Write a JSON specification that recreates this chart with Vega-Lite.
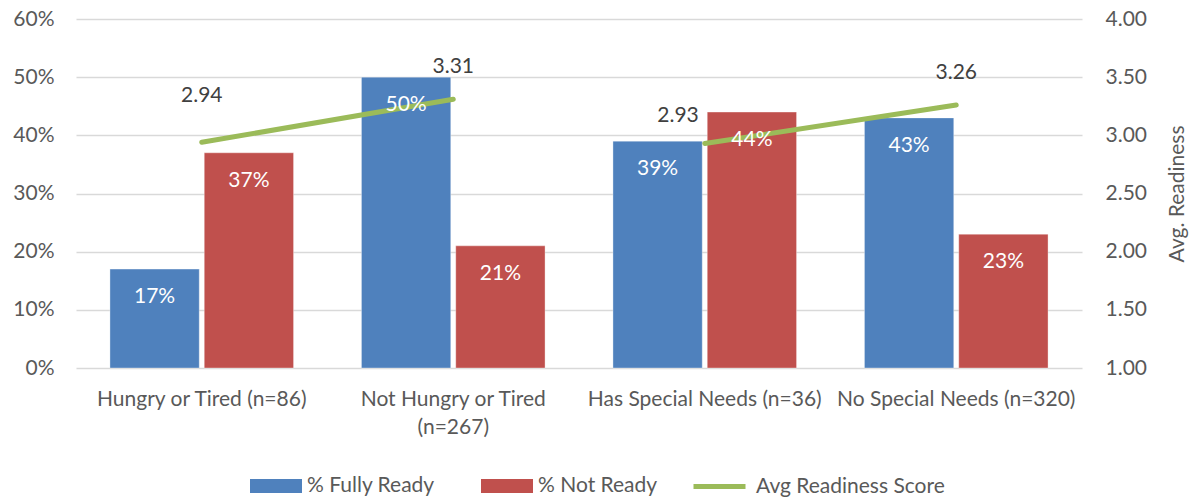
{
  "$schema": "https://vega.github.io/schema/vega-lite/v6.json",
  "width": 1006,
  "height": 349,
  "autosize": "none",
  "padding": {"left": 76, "top": 19, "right": 112, "bottom": 129},
  "background": "white",
  "config": {
    "view": {"stroke": null},
    "font": "Lato",
    "axis": {"labelFont": "Lato", "titleFont": "Lato", "labelColor": "#595959", "titleColor": "#595959", "labelFontSize": 21, "titleFontSize": 21, "titleFontWeight": "normal"},
    "legend": {"labelFont": "Lato", "labelFontSize": 21, "labelColor": "#595959", "labelLimit": 400}
  },
  "datasets": {
    "bars": [
      {"cat": "Hungry or Tired (n=86)", "series": "% Fully Ready", "value": 0.17},
      {"cat": "Hungry or Tired (n=86)", "series": "% Not Ready", "value": 0.37},
      {"cat": "Not Hungry or Tired (n=267)", "series": "% Fully Ready", "value": 0.50},
      {"cat": "Not Hungry or Tired (n=267)", "series": "% Not Ready", "value": 0.21},
      {"cat": "Has Special Needs (n=36)", "series": "% Fully Ready", "value": 0.39},
      {"cat": "Has Special Needs (n=36)", "series": "% Not Ready", "value": 0.44},
      {"cat": "No Special Needs (n=320)", "series": "% Fully Ready", "value": 0.43},
      {"cat": "No Special Needs (n=320)", "series": "% Not Ready", "value": 0.23}
    ],
    "line": [
      {"cat": "Hungry or Tired (n=86)", "series": "Avg Readiness Score", "avg": 2.94, "seg": "hungry"},
      {"cat": "Not Hungry or Tired (n=267)", "series": "Avg Readiness Score", "avg": 3.31, "seg": "hungry"},
      {"cat": "Has Special Needs (n=36)", "series": "Avg Readiness Score", "avg": 2.93, "seg": "special"},
      {"cat": "No Special Needs (n=320)", "series": "Avg Readiness Score", "avg": 3.26, "seg": "special"}
    ]
  },
  "encoding": {
    "x": {
      "field": "cat",
      "type": "nominal",
      "sort": null,
      "scale": {"domain": ["Hungry or Tired (n=86)", "Not Hungry or Tired (n=267)", "Has Special Needs (n=36)", "No Special Needs (n=320)"], "paddingInner": 0.27, "paddingOuter": 0.135},
      "axis": {
        "title": null,
        "labelAngle": 0,
        "domain": false,
        "ticks": false,
        "labelPadding": 20,
        "labelLineHeight": 28,
        "labelLimit": 300,
        "labelBaseline": "top",
        "labelExpr": "datum.label == 'Not Hungry or Tired (n=267)' ? ['Not Hungry or Tired', '(n=267)'] : datum.label"
      }
    }
  },
  "layer": [
    {
      "data": {"name": "bars"},
      "mark": {"type": "bar", "stroke": "white", "strokeOpacity": 0.35, "strokeWidth": 1},
      "encoding": {
        "xOffset": {"field": "series", "type": "nominal", "scale": {"paddingInner": 0.053}},
        "y": {
          "field": "value",
          "type": "quantitative",
          "scale": {"domain": [0, 0.6]},
          "axis": {"orient": "left", "title": null, "format": ".0%", "values": [0, 0.1, 0.2, 0.3, 0.4, 0.5, 0.6], "domain": false, "ticks": false, "labelPadding": 22, "grid": true, "gridColor": "#D9D9D9", "gridWidth": 1.3}
        },
        "color": {
          "field": "series",
          "type": "nominal",
          "scale": {"domain": ["% Fully Ready", "% Not Ready"], "range": ["#4F81BD", "#C0504D"]},
          "legend": {
            "title": null,
            "orient": "none",
            "legendX": 174,
            "legendY": 441,
            "direction": "horizontal",
            "symbolType": "M-1,-0.27H1V0.27H-1Z",
            "symbolSize": 2704,
            "symbolStrokeWidth": 0,
            "symbolOpacity": 1,
            "labelOffset": 5,
            "columnPadding": 46
          }
        }
      }
    },
    {
      "data": {"name": "line"},
      "mark": {"type": "line", "strokeWidth": 5, "strokeCap": "round"},
      "encoding": {
        "y": {
          "field": "avg",
          "type": "quantitative",
          "scale": {"domain": [1, 4]},
          "axis": {"orient": "right", "title": "Avg. Readiness", "titleAngle": 270, "titleBaseline": "top", "titlePadding": 20, "format": ".2f", "values": [1, 1.5, 2, 2.5, 3, 3.5, 4], "grid": false, "domain": false, "ticks": false, "labelPadding": 23}
        },
        "stroke": {
          "field": "series",
          "type": "nominal",
          "scale": {"domain": ["Avg Readiness Score"], "range": ["#9BBB59"]},
          "legend": {
            "title": null,
            "orient": "none",
            "legendX": 615,
            "legendY": 439,
            "symbolType": "stroke",
            "symbolSize": 2704,
            "symbolStrokeWidth": 5,
            "labelOffset": 8,
            "labelLimit": 400
          }
        },
        "detail": {"field": "seg"}
      }
    },
    {
      "data": {"name": "bars"},
      "mark": {"type": "text", "color": "white", "fontSize": 21, "baseline": "middle", "dy": 28, "font": "Lato"},
      "encoding": {
        "xOffset": {"field": "series", "type": "nominal"},
        "y": {"field": "value", "type": "quantitative", "scale": {"domain": [0, 0.6]}, "axis": null},
        "text": {"field": "value", "type": "quantitative", "format": ".0%"}
      }
    },
    {
      "data": {"name": "line"},
      "layer": [
        {
          "transform": [{"filter": "datum.avg == 3.31 || datum.avg == 3.26"}],
          "mark": {"type": "text", "color": "#404040", "fontSize": 21, "baseline": "middle", "dy": -32, "font": "Lato"},
          "encoding": {
            "y": {"field": "avg", "type": "quantitative", "scale": {"domain": [1, 4]}, "axis": null},
            "text": {"field": "avg", "type": "quantitative", "format": ".2f"}
          }
        },
        {
          "transform": [{"filter": "datum.avg == 2.94"}],
          "mark": {"type": "text", "color": "#404040", "fontSize": 21, "baseline": "middle", "dy": -46, "font": "Lato"},
          "encoding": {
            "y": {"field": "avg", "type": "quantitative", "scale": {"domain": [1, 4]}, "axis": null},
            "text": {"field": "avg", "type": "quantitative", "format": ".2f"}
          }
        },
        {
          "transform": [{"filter": "datum.avg == 2.93"}],
          "mark": {"type": "text", "color": "#404040", "fontSize": 21, "baseline": "middle", "align": "right", "dx": -6, "dy": -27, "font": "Lato"},
          "encoding": {
            "y": {"field": "avg", "type": "quantitative", "scale": {"domain": [1, 4]}, "axis": null},
            "text": {"field": "avg", "type": "quantitative", "format": ".2f"}
          }
        }
      ],
      "resolve": {"scale": {"y": "shared"}}
    }
  ],
  "resolve": {"scale": {"y": "independent"}}
}
